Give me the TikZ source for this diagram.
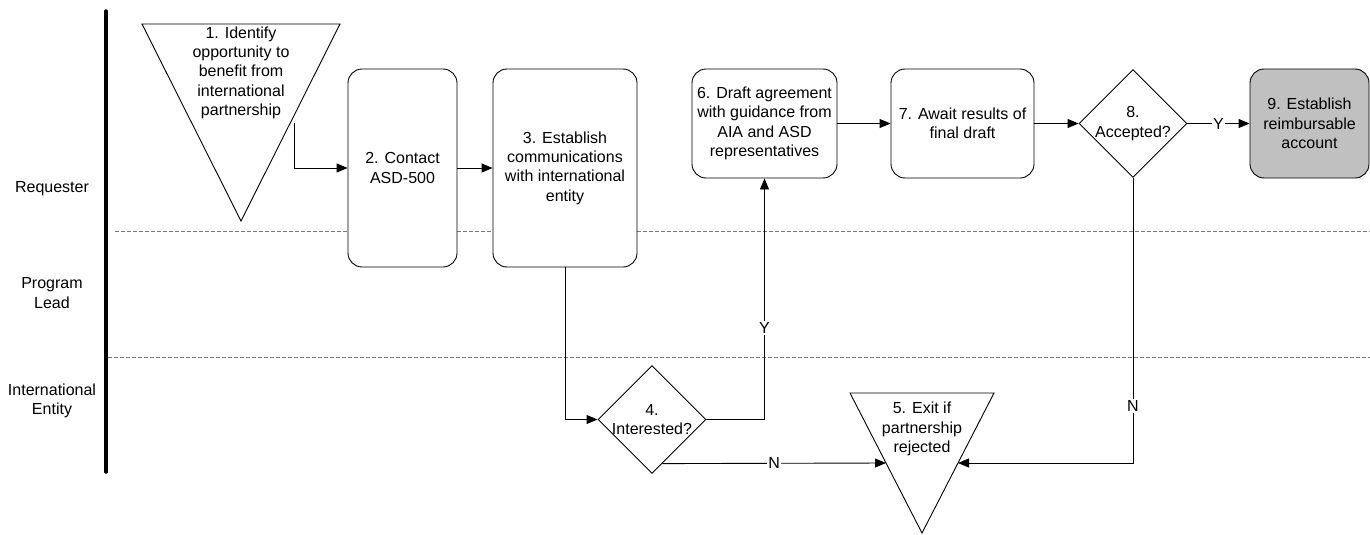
\documentclass[tikz,border=0pt]{standalone}
\usepackage{fontspec}
\setmainfont{Liberation Sans}
\usepackage{xcolor}
\definecolor{laneGray}{RGB}{120, 120, 120}
\definecolor{endGray}{RGB}{192, 192, 192}
\usepackage{tikz}
\usetikzlibrary{
    shapes.geometric,
    arrows.meta,
    positioning,
    calc
}

\begin{document}
\begin{tikzpicture}[
    x=1pt, y=-1pt,
    every node/.style={font=\fontsize{16}{19.3}\selectfont, text=black},
    stepBox/.style={
        rectangle, rounded corners=14pt,
        draw=black, line width=0.9pt,
        fill=white, align=center,
        inner sep=2pt, minimum height=109pt
    },
    endBox/.style={
        stepBox, fill=endGray
    },
    decisionNode/.style={
        diamond, draw=black, line width=0.9pt,
        fill=white, align=center,
        inner sep=-3pt, minimum width=108pt, minimum height=108pt
    },
    triShape/.style={
        draw=black, line width=0.9pt, fill=white
    },
    triText/.style={
        align=center, inner sep=0pt
    },
    laneLabel/.style={
        align=center, inner sep=0pt
    },
    laneLine/.style={
        draw=laneGray, line width=1pt, dash pattern=on 4pt off 2pt
    },
    flowArrow/.style={
        -{Triangle[length=11pt, width=9pt]}, line width=0.9pt, draw=black
    },
    flowLabel/.style={
        fill=white, inner sep=1.5pt
    }
]
    \useasboundingbox (0,0) rectangle (1370,535);

    % Lanes
    \draw[line width=3.5pt, line cap=round] (106,11) -- (106,472);
    \draw[laneLine] (115,231) -- (1370,231);
    \draw[laneLine] (108,357) -- (1370,357);

    \node[laneLabel] (requester) at (52,189) {Requester};
    \node[laneLabel] (lead) at (52,293) {Program\\Lead};
    \node[laneLabel] (entity) at (52,401) {International\\Entity};

    % Steps Layout
    \coordinate (idTL) at (142,24);
    \coordinate (idTR) at (340,24);
    \coordinate (idB) at (241,221);
    \draw[triShape] (idTL) -- (idTR) -- (idB) -- cycle;
    \node[triText] (identify) at (241,72.7) {
        1. Identify\\opportunity to\\benefit from\\international\\partnership
    };

    \node[stepBox, minimum width=109pt, minimum height=198pt] (contact) at (402.5,168) {
        2. Contact\\ASD-500
    };

    \node[stepBox, minimum width=144pt, minimum height=198pt] (establish) at (565,168) {
        3. Establish\\communications\\with international\\entity
    };

    \node[decisionNode] (interested) at (652,419.5) {4.\\Interested?};

    \coordinate (exTL) at (850,393);
    \coordinate (exTR) at (994,393);
    \coordinate (exB) at (922,533);
    \draw[triShape] (exTL) -- (exTR) -- (exB) -- cycle;
    \node[triText] (exit) at (922,429) {
        5. Exit if\\partnership\\rejected
    };

    \node[stepBox, minimum width=145pt] (draft) at (764.5,123.5) {
        6. Draft agreement\\with guidance from\\AIA and ASD\\representatives
    };

    \node[stepBox, minimum width=143pt] (await) at (962.5,123.5) {
        7. Await results of\\final draft
    };

    \node[decisionNode] (accepted) at (1133,123.5) {8.\\Accepted?};

    \node[endBox, minimum width=119pt] (account) at (1309.5,123.5) {
        9. Establish\\reimbursable\\account
    };

    % Connection points
    \coordinate (idOut) at ($(idTR)!0.5!(idB)+(4,0)$);
    \coordinate (exInL) at ($(exTL)!0.5!(exB)$);
    \coordinate (exInR) at ($(exTR)!0.5!(exB)$);
    \coordinate (intOut) at ($(interested.south)!0.19!(interested.east)$);

    % Flows
    \draw[flowArrow] (idOut) |- (contact);
    \draw[flowArrow] (contact) -- (establish);
    \draw[flowArrow] (establish) |- (interested);
    \draw[flowArrow] (interested) -| node[flowLabel, pos=0.69] {Y} (draft);
    \draw[flowArrow] (intOut) -- node[flowLabel] {N} (exInL);
    \draw[flowArrow] (draft) -- (await);
    \draw[flowArrow] (await) -- (accepted);
    \draw[flowArrow] (accepted) -- node[flowLabel] {Y} (account);
    \draw[flowArrow] (accepted) |- node[flowLabel, pos=0.4] {N} (exInR);

\end{tikzpicture}
\end{document}
